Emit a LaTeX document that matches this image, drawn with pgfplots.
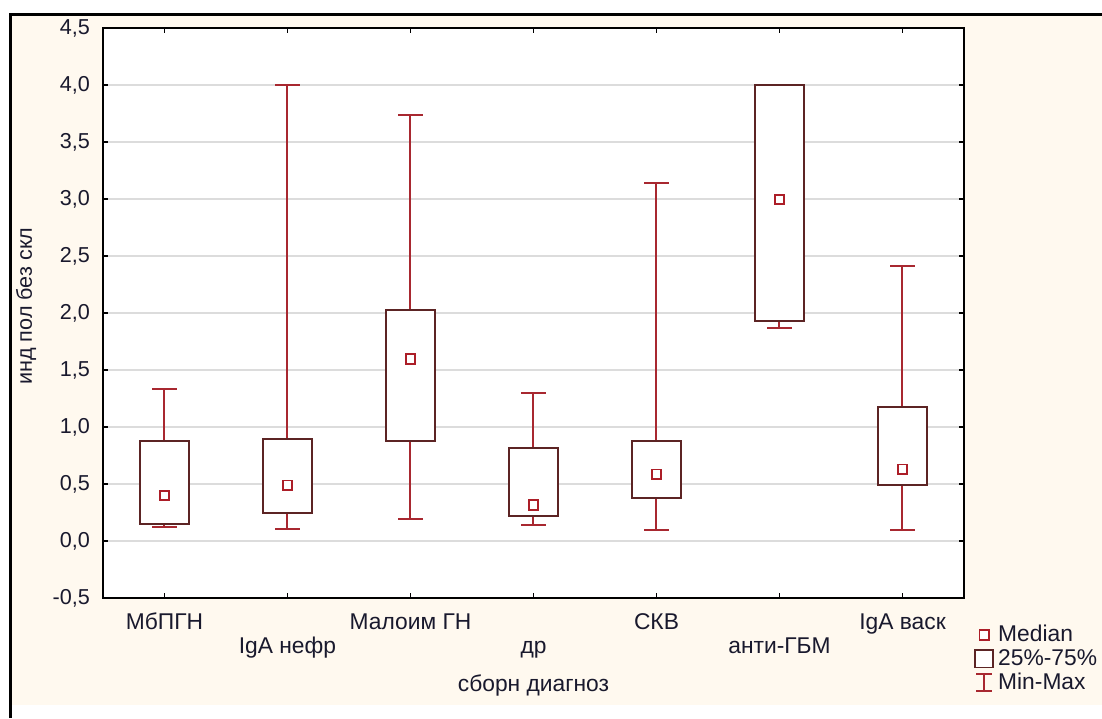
\documentclass[border=0pt]{standalone}
\usepackage{fontspec}
\setmainfont{Liberation Sans}
\usepackage{pgfplots}
\pgfplotsset{compat=1.18}
\usepgfplotslibrary{statistics}

\definecolor{cream}{RGB}{255,249,239}
\definecolor{whc}{RGB}{168,40,48}
\definecolor{boxc}{RGB}{92,36,36}
\definecolor{medc}{RGB}{172,30,40}
\definecolor{gridc}{RGB}{220,220,220}
\definecolor{txt}{RGB}{25,25,45}

\newcommand{\fx}{\fontsize{11.4}{13}\selectfont}
\newcommand{\fy}{\fontsize{10.8}{12}\selectfont}

\pgfplotsset{
  bx/.style={draw=whc,line width=1pt,solid,forget plot},
}

\begin{document}
\begin{tikzpicture}
% page 1102x718 px at 0.5pt per px
\useasboundingbox (0,0) rectangle (551pt,359pt);
\fill[white] (0,0) rectangle (551pt,359pt);
\fill[cream] (5pt,6.5pt) rectangle (551pt,351.5pt);
\draw[black,line width=1.5pt] (5pt,0) -- (5pt,351.5pt) -- (551pt,351.5pt);

\begin{axis}[
  at={(51.5pt,60pt)}, anchor=south west,
  scale only axis, width=430.5pt, height=285pt,
  axis background/.style={fill=white},
  xmin=-0.5, xmax=6.5, ymin=-0.5, ymax=4.5,
  ytick={-0.5,0,...,4.5},
  ymajorgrids, grid style={gridc,line width=0.75pt},
  axis line style={black,line width=0.75pt},
  tick align=inside, major tick length=2.5pt,
  tick style={black,line width=0.75pt},
  /pgf/number format/assume math mode=true,
  yticklabel style={/pgf/number format/.cd,fixed,fixed zerofill,precision=1,use comma,/tikz/.cd,
    font=\fy,text=txt,xshift=-3pt},
  xticklabel style={font=\fx,text=txt,anchor=base,yshift=-15.5pt},
  xtick={0,2,4,6},
  xticklabels={МбПГН,Малоим ГН,СКВ,IgA васк},
  extra x ticks={1,3,5},
  extra x tick labels={IgA нефр,др,анти-ГБМ},
  extra x tick style={xticklabel style={yshift=-12pt}},
  xlabel={сборн диагноз},
  ylabel={инд пол без скл},
  xlabel style={font=\fx,text=txt,at={(axis description cs:0.5,-0.1632)},anchor=base},
  ylabel style={font=\fy,text=txt,at={(axis description cs:-0.0825,0.512)},anchor=base},
  boxplot/draw direction=y,
  boxplot/draw/median/.code={},
  boxplot/every box/.style={draw=boxc,fill=white,line width=1pt},
  boxplot/every whisker/.style={draw=whc,line width=1pt},
  boxplot/box extend=0.4,
  boxplot/whisker extend=0.2,
  legend style={at={(1.0116,-0.040)},anchor=north west,draw=none,fill=none,
    font=\fx,text=txt,inner sep=0pt,row sep=-1.7pt},
  legend cell align=left,
]
\addplot[bx,boxplot prepared={draw position=0,lower whisker=0.122,lower quartile=0.152,median=0.400,upper quartile=0.878,upper whisker=1.330}] coordinates {};
\addplot[bx,boxplot prepared={draw position=1,lower whisker=0.108,lower quartile=0.249,median=0.489,upper quartile=0.893,upper whisker=4.000}] coordinates {};
\addplot[bx,boxplot prepared={draw position=2,lower whisker=0.193,lower quartile=0.878,median=1.596,upper quartile=2.026,upper whisker=3.740}] coordinates {};
\addplot[bx,boxplot prepared={draw position=3,lower whisker=0.137,lower quartile=0.222,median=0.316,upper quartile=0.820,upper whisker=1.294}] coordinates {};
\addplot[bx,boxplot prepared={draw position=4,lower whisker=0.096,lower quartile=0.374,median=0.585,upper quartile=0.878,upper whisker=3.140}] coordinates {};
\addplot[bx,boxplot prepared={draw position=5,lower whisker=1.865,lower quartile=1.930,median=2.996,upper quartile=4.000,upper whisker=4.000}] coordinates {};
\addplot[bx,boxplot prepared={draw position=6,lower whisker=0.093,lower quartile=0.490,median=0.629,upper quartile=1.174,upper whisker=2.416}] coordinates {};

\addplot[only marks,mark=square,mark size=2.4pt,mark options={draw=medc,fill=white,line width=0.9pt},
  legend image code/.code={\draw[medc,fill=white,line width=0.9pt] (2.1pt,-2.4pt) rectangle (6.9pt,2.4pt);}]
  coordinates {(0,0.400)(1,0.489)(2,1.596)(3,0.316)(4,0.585)(5,2.996)(6,0.629)};
\addlegendentry{Median}
\addlegendimage{legend image code/.code={\draw[boxc,fill=white,line width=0.9pt] (0pt,-4.4pt) rectangle (9pt,4.4pt);}}
\addlegendentry{25\%-75\%}
\addlegendimage{legend image code/.code={\draw[whc,line width=0.9pt] (0.5pt,4.3pt) -- (8.5pt,4.3pt) (4.5pt,4.3pt) -- (4.5pt,-4.3pt) (0.5pt,-4.3pt) -- (8.5pt,-4.3pt);}}
\addlegendentry{Min-Max}
\end{axis}
\end{tikzpicture}
\end{document}
